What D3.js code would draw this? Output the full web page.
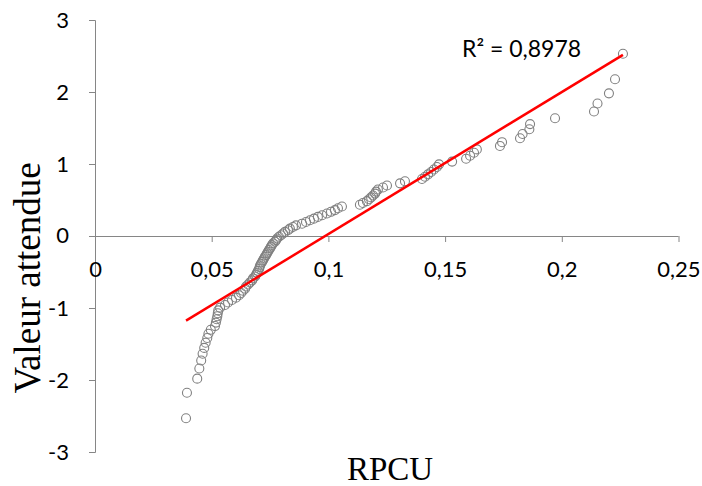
<!DOCTYPE html>
<html>
<head>
<meta charset="utf-8">
<script src="https://cdn.jsdelivr.net/npm/d3@7"></script>
<style>
  html, body { margin: 0; padding: 0; background: #fff; }
  svg { display: block; }
</style>
</head>
<body>
<svg id="chart" width="702" height="486"></svg>
<script>
// Sorted RPCU values and their expected normal scores
const rpcu = [
  0.0390, 0.0394, 0.0438, 0.0447, 0.0455, 0.0461, 0.0468, 0.0474, 0.0481, 0.0486,
  0.0496, 0.0514, 0.0518, 0.0521, 0.0524, 0.0526, 0.0528, 0.0536, 0.0557, 0.0570,
  0.0587, 0.0604, 0.0617, 0.0626, 0.0634, 0.0643, 0.0647, 0.0656, 0.0664, 0.0673,
  0.0677, 0.0686, 0.0690, 0.0694, 0.0698, 0.0703, 0.0705, 0.0707, 0.0711, 0.0716,
  0.0720, 0.0724, 0.0728, 0.0733, 0.0737, 0.0741, 0.0745, 0.0750, 0.0754, 0.0758,
  0.0763, 0.0771, 0.0776, 0.0780, 0.0788, 0.0797, 0.0806, 0.0814, 0.0827, 0.0835,
  0.0848, 0.0861, 0.0887, 0.0904, 0.0921, 0.0938, 0.0955, 0.0973, 0.0994, 0.1011,
  0.1028, 0.1041, 0.1058, 0.1135, 0.1148, 0.1165, 0.1174, 0.1183, 0.1191, 0.1200,
  0.1204, 0.1212, 0.1234, 0.1251, 0.1307, 0.1328, 0.1401, 0.1414, 0.1427, 0.1440,
  0.1452, 0.1465, 0.1474, 0.1530, 0.1590, 0.1607, 0.1624, 0.1636, 0.1735, 0.1744,
  0.1821, 0.1832, 0.1861, 0.1864, 0.1971, 0.2138, 0.2153, 0.2202, 0.2228, 0.2262
];
const expected = [
  -2.532, -2.177, -1.981, -1.840, -1.729, -1.635, -1.554, -1.482, -1.417, -1.358,
  -1.303, -1.251, -1.203, -1.157, -1.114, -1.073, -1.033, -0.995, -0.958, -0.923,
  -0.889, -0.856, -0.823, -0.792, -0.761, -0.731, -0.701, -0.673, -0.645, -0.617,
  -0.589, -0.563, -0.536, -0.510, -0.484, -0.459, -0.434, -0.409, -0.385, -0.360,
  -0.336, -0.312, -0.288, -0.265, -0.241, -0.218, -0.194, -0.171, -0.148, -0.125,
  -0.102, -0.080, -0.057, -0.034, -0.011, 0.011, 0.034, 0.057, 0.080, 0.102,
  0.125, 0.148, 0.171, 0.194, 0.218, 0.241, 0.265, 0.288, 0.312, 0.336,
  0.360, 0.385, 0.409, 0.434, 0.459, 0.484, 0.510, 0.536, 0.563, 0.589,
  0.617, 0.645, 0.673, 0.701, 0.731, 0.761, 0.792, 0.823, 0.856, 0.889,
  0.923, 0.958, 0.995, 1.033, 1.073, 1.114, 1.157, 1.203, 1.251, 1.303,
  1.358, 1.417, 1.482, 1.554, 1.635, 1.729, 1.840, 1.981, 2.177, 2.532
];
const xTicks = [0, 0.05, 0.1, 0.15, 0.2, 0.25];
const xTickLabels = ["0", "0,05", "0,1", "0,15", "0,2", "0,25"];
const yTicks = [-3, -2, -1, 0, 1, 2, 3];
const yTickLabels = ["-3", "-2", "-1", "0", "1", "2", "3"];
const r2Label = "R² = 0,8978";

const svg = d3.select("#chart");
const axisColor = "#868686";
const labelFont = "Lato, 'Open Sans', sans-serif";
const titleFont = "'Liberation Serif', 'Times New Roman', serif";
const labelSize = "22px";

const x = d3.scaleLinear().domain([0, 0.25]).range([95, 678.5]);
const y = d3.scaleLinear().domain([-3, 3]).range([452, 20]);

// Vertical axis on the left
const yAxis = svg.append("g")
  .attr("transform", `translate(${x(0)},0)`)
  .call(d3.axisLeft(y).tickValues(yTicks)
    .tickFormat((d, i) => yTickLabels[i]).tickSize(6).tickPadding(20));
yAxis.select(".domain").attr("stroke", axisColor).attr("stroke-width", 1);
yAxis.selectAll(".tick line").attr("stroke", axisColor);
yAxis.selectAll(".tick text")
  .attr("fill", "#000").style("font-family", labelFont).style("font-size", labelSize);
yAxis.selectAll(".tick").filter(d => d === 0).select("text").remove();

// Horizontal axis through zero
const xAxis = svg.append("g")
  .attr("transform", `translate(0,${y(0)})`)
  .call(d3.axisBottom(x).tickValues(xTicks)
    .tickFormat((d, i) => xTickLabels[i]).tickSize(6).tickPadding(19));
xAxis.select(".domain").attr("stroke", axisColor).attr("stroke-width", 1)
  .attr("d", `M${x(0)},0.5H${x(0.25)}`);
xAxis.selectAll(".tick line").attr("stroke", axisColor);
xAxis.selectAll(".tick text")
  .attr("fill", "#000").style("font-family", labelFont).style("font-size", labelSize);

// Zero label for the vertical axis, drawn after the horizontal axis
svg.append("text")
  .attr("x", x(0) - 26).attr("y", y(0)).attr("dy", "0.32em")
  .attr("text-anchor", "end")
  .style("font-family", labelFont).style("font-size", labelSize).attr("fill", "#000")
  .text(yTickLabels[3]);

// Scatter of observations
const pts = rpcu.map((v, i) => ({ x: v, y: expected[i] }));
svg.append("g").selectAll("circle").data(pts).join("circle")
  .attr("cx", d => x(d.x)).attr("cy", d => y(d.y)).attr("r", 4.5)
  .attr("fill", "none").attr("stroke", "#808080").attr("stroke-width", 1.1);

// Least-squares trend line over the data range
const mx = d3.mean(pts, d => d.x), my = d3.mean(pts, d => d.y);
const sxy = d3.sum(pts, d => (d.x - mx) * (d.y - my));
const sxx = d3.sum(pts, d => (d.x - mx) ** 2);
const slope = sxy / sxx, intercept = my - slope * mx;
const [xmin, xmax] = d3.extent(pts, d => d.x);
svg.append("line")
  .attr("x1", x(xmin)).attr("y1", y(intercept + slope * xmin))
  .attr("x2", x(xmax)).attr("y2", y(intercept + slope * xmax))
  .attr("stroke", "#ff0000").attr("stroke-width", 2.5);

svg.append("text")
  .attr("x", 462).attr("y", 57)
  .style("font-family", labelFont).style("font-size", "23px").attr("fill", "#000")
  .text(r2Label);

// Axis titles
svg.append("text")
  .attr("x", 390).attr("y", 480)
  .attr("text-anchor", "middle")
  .style("font-family", titleFont).style("font-size", "33px").attr("fill", "#000")
  .text("RPCU");
svg.append("text")
  .attr("transform", "translate(40,278) rotate(-90)")
  .attr("text-anchor", "middle")
  .style("font-family", titleFont).style("font-size", "37px").attr("fill", "#000")
  .text("Valeur attendue");
</script>
</body>
</html>
